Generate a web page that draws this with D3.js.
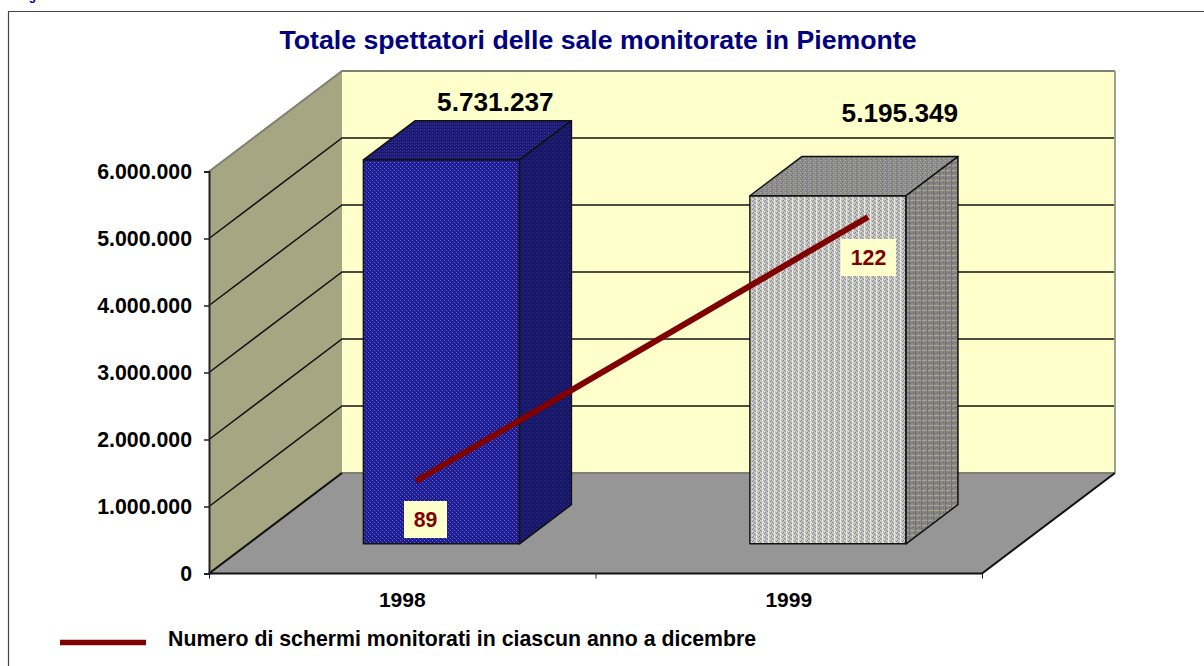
<!DOCTYPE html>
<html>
<head>
<meta charset="utf-8">
<script src="https://cdn.jsdelivr.net/npm/d3@7"></script>
<style>
    html, body { margin: 0; padding: 0; background: #fff; overflow: hidden; }
    svg { display: block; }
    text { font-family: "Liberation Sans", Arial, sans-serif; font-weight: bold; }
</style>
</head>
<body>
<div id="chart"></div>
<script>
const categories = ["1998", "1999"]
const spectators = [5731237, 5195349]
const screens = [89, 122]
const yTicks = [0, 1000000, 2000000, 3000000, 4000000, 5000000, 6000000]
const titleText = "Totale spettatori delle sale monitorate in Piemonte"
const legendText = "Numero di schermi monitorati in ciascun anno a dicembre"
const figureText = "Figura 1.3"

const width = 1204
const height = 666

const svg = d3.select("#chart").append("svg")
    .attr("width", width)
    .attr("height", height)

const it = d3.formatLocale({ decimal: ",", thousands: ".", grouping: [3], currency: ["", "€"] })
const fmt = it.format(",d")

// front plane of the 3d box
const x = d3.scaleBand().domain(categories).range([209, 982]).paddingInner(0.596).paddingOuter(0.298)
const xTick = d3.scaleLinear().domain([0, categories.length]).range([209, 982])
const y = d3.scaleLinear().domain([0, 6000000]).range([573.5, 171.5])

// depth 0 = front, 1 = back wall
const depthX = d3.scaleLinear().domain([0, 1]).range([0, 133])
const depthY = d3.scaleLinear().domain([0, 1]).range([0, -100.5])
const barDepth = [0.295, 0.685]

// the line is drawn over the bars on its own hidden axis
const lineX = d3.scalePoint().domain(categories).range([416, 868])
const lineY = d3.scaleLinear().domain([89, 122]).range([481, 217])

function pt(px, v, d) {
    return [px + depthX(d), y(v) + depthY(d)]
}
function poly(points) {
    return d3.line()(points) + "Z"
}

// dither textures, the bars in the original are pattern filled
const defs = svg.append("defs")
function addPattern(id, w, h, base, cells) {
    let p = defs.append("pattern")
        .attr("id", id)
        .attr("patternUnits", "userSpaceOnUse")
        .attr("width", w)
        .attr("height", h)
    p.append("rect").attr("width", w).attr("height", h).attr("fill", base)
    cells.forEach(function (c) {
        p.append("rect")
            .attr("x", c[0]).attr("y", c[1])
            .attr("width", c[2]).attr("height", c[3])
            .attr("fill", c[4])
    })
}
addPattern("blueFront", 4, 4, "#1c1c90", [
    [0, 0, 1, 1, "#6a6ac8"], [2, 2, 1, 1, "#6a6ac8"], [1, 1, 1, 1, "#2a2aa8"], [3, 3, 1, 1, "#2a2aa8"]
])
addPattern("blueTop", 4, 3, "#1c1c78", [
    [0, 0, 1, 1, "#383898"], [2, 1, 1, 1, "#383898"], [1, 2, 1, 1, "#101058"]
])
addPattern("blueSide", 4, 4, "#18186a", [
    [0, 0, 1, 1, "#2c2c88"], [2, 2, 1, 1, "#2c2c88"], [1, 3, 1, 1, "#0e0e48"]
])
addPattern("greyFront", 6, 4, "#c0c0bc", [
    [0, 0, 1, 4, "#ececd0"], [3, 0, 1, 1, "#7c7cac"], [2, 1, 1, 1, "#8c8cb0"], [4, 2, 1, 1, "#7c7cac"],
    [5, 3, 1, 1, "#8c8cb0"], [1, 2, 1, 1, "#dcdcc4"], [4, 0, 1, 1, "#dcdcc4"], [2, 3, 1, 1, "#dcdcc4"]
])
addPattern("greyTop", 5, 4, "#8e8e8c", [
    [0, 0, 1, 1, "#b0b090"], [2, 1, 1, 1, "#6c6c88"], [3, 2, 1, 1, "#a8a890"], [1, 3, 1, 1, "#6c6c84"]
])
addPattern("greySide", 6, 5, "#88887e", [
    [0, 0, 6, 1, "#a8a888"], [1, 2, 1, 1, "#60608c"], [4, 3, 1, 1, "#60608c"], [3, 0, 1, 5, "#707084"]
])

// frame
svg.append("path")
    .attr("d", d3.line()([[width, 11.5], [8.5, 11.5], [8.5, height]]))
    .attr("fill", "none")
    .attr("stroke", "#444")
    .attr("stroke-width", 1.2)

svg.append("text")
    .attr("x", 18)
    .attr("y", 0)
    .attr("font-size", 12)
    .attr("fill", "#0000a0")
    .text(figureText)

svg.append("text")
    .attr("x", 598)
    .attr("y", 49)
    .attr("text-anchor", "middle")
    .attr("font-size", 26.7)
    .attr("fill", "#000080")
    .text(titleText)

// walls and floor
const left = 209, right = 982
const vMax = yTicks[yTicks.length - 1]

svg.append("path")
    .attr("d", poly([pt(left, 0, 1), pt(left, vMax, 1), pt(right, vMax, 1), pt(right, 0, 1)]))
    .attr("fill", "#ffffcc")
svg.append("path")
    .attr("d", poly([pt(left, 0, 0), pt(left, vMax, 0), pt(left, vMax, 1), pt(left, 0, 1)]))
    .attr("fill", "#a6a682")
svg.append("path")
    .attr("d", poly([pt(left, 0, 0), pt(left, 0, 1), pt(right, 0, 1), pt(right, 0, 0)]))
    .attr("fill", "#969696")

// gridlines run along the side wall then the back wall
svg.append("g").selectAll("path")
    .data(yTicks)
    .enter()
    .append("path")
    .attr("d", function (d) {
        return d3.line()([pt(left, d, 0), pt(left, d, 1), pt(right, d, 1)])
    })
    .attr("fill", "none")
    .attr("stroke", function (d) { return d == 0 || d == vMax ? "#808070" : "#111" })
    .attr("stroke-width", function (d) { return d == 0 || d == vMax ? 2 : 1.5 })

// right edge of the back wall
svg.append("path")
    .attr("d", d3.line()([pt(right, 0, 1), pt(right, vMax, 1)]))
    .attr("stroke", "#a0a090")
    .attr("stroke-width", 2)
    .attr("fill", "none")

// floor edges
svg.append("path")
    .attr("d", d3.line()([pt(left, 0, 1), pt(left, 0, 0), pt(right, 0, 0), pt(right, 0, 1)]))
    .attr("fill", "none")
    .attr("stroke", "#111")
    .attr("stroke-width", 2)

// axes
const yAxis = d3.axisLeft(y).tickValues(yTicks).tickFormat(fmt).tickSize(5).tickPadding(12)
const yG = svg.append("g").attr("transform", "translate(" + left + ",0)").call(yAxis)
yG.selectAll("text").attr("font-size", 21.3).attr("fill", "#000").attr("font-family", null)
yG.selectAll(".tick line").attr("stroke", "#222").attr("stroke-width", 1.5)
yG.select(".domain").attr("stroke", "#222").attr("stroke-width", 2)

const xAxis = d3.axisBottom(xTick).ticks(categories.length).tickFormat("").tickSize(5).tickSizeOuter(0)
const xG = svg.append("g").attr("transform", "translate(0," + y(0) + ")").call(xAxis)
xG.select(".domain").remove()
xG.selectAll(".tick line").attr("stroke", "#222")

svg.append("g").selectAll("text")
    .data(categories)
    .enter()
    .append("text")
    .attr("x", function (d) { return x(d) + x.bandwidth() / 2 })
    .attr("y", 607)
    .attr("text-anchor", "middle")
    .attr("font-size", 21)
    .attr("fill", "#000")
    .text(function (d) { return d })

// 3d bars
const barFills = [
    ["url(#blueFront)", "url(#blueTop)", "url(#blueSide)"],
    ["url(#greyFront)", "url(#greyTop)", "url(#greySide)"]
]
const bars = svg.append("g").selectAll("g")
    .data(categories)
    .enter()
    .append("g")

bars.each(function (c, i) {
    let g = d3.select(this)
    let x0 = x(c), x1 = x(c) + x.bandwidth()
    let v = spectators[i]
    let d0 = barDepth[0], d1 = barDepth[1]
    let faces = [
        [[pt(x0, 0, d0), pt(x0, v, d0), pt(x1, v, d0), pt(x1, 0, d0)], barFills[i][0]],
        [[pt(x0, v, d0), pt(x0, v, d1), pt(x1, v, d1), pt(x1, v, d0)], barFills[i][1]],
        [[pt(x1, 0, d0), pt(x1, v, d0), pt(x1, v, d1), pt(x1, 0, d1)], barFills[i][2]]
    ]
    g.selectAll("path")
        .data(faces)
        .enter()
        .append("path")
        .attr("d", function (f) { return poly(f[0]) })
        .attr("fill", function (f) { return f[1] })
        .attr("stroke", "#111")
        .attr("stroke-width", 1.5)
        .attr("stroke-linejoin", "round")
})

// value labels were moved by hand in the original
const valueLabelShift = [[2, -10], [20, -35]]
svg.append("g").selectAll("text")
    .data(categories)
    .enter()
    .append("text")
    .attr("x", function (d, i) { return pt(x(d) + x.bandwidth() / 2, spectators[i], barDepth[1])[0] + valueLabelShift[i][0] })
    .attr("y", function (d, i) { return pt(x(d), spectators[i], barDepth[1])[1] + valueLabelShift[i][1] })
    .attr("text-anchor", "middle")
    .attr("font-size", 26.2)
    .attr("fill", "#000")
    .text(function (d, i) { return fmt(spectators[i]) })

// line over the bars
svg.append("path")
    .datum(categories)
    .attr("d", d3.line()
        .x(function (d) { return lineX(d) })
        .y(function (d, i) { return lineY(screens[i]) }))
    .attr("fill", "none")
    .attr("stroke", "#800000")
    .attr("stroke-width", 6)

// boxes for the line labels
const boxShift = [[-12, 20, 43, 37], [-27, 22, 55, 37]]
const labels = svg.append("g").selectAll("g")
    .data(categories)
    .enter()
    .append("g")
labels.append("rect")
    .attr("x", function (d, i) { return lineX(d) + boxShift[i][0] })
    .attr("y", function (d, i) { return lineY(screens[i]) + boxShift[i][1] })
    .attr("width", function (d, i) { return boxShift[i][2] })
    .attr("height", function (d, i) { return boxShift[i][3] })
    .attr("fill", "#ffffcc")
labels.append("text")
    .attr("x", function (d, i) { return lineX(d) + boxShift[i][0] + boxShift[i][2] / 2 })
    .attr("y", function (d, i) { return lineY(screens[i]) + boxShift[i][1] + 26 })
    .attr("text-anchor", "middle")
    .attr("font-size", 21.3)
    .attr("fill", "#800000")
    .text(function (d, i) { return screens[i] })

// legend
svg.append("line")
    .attr("x1", 60).attr("x2", 146)
    .attr("y1", 642.5).attr("y2", 642.5)
    .attr("stroke", "#800000")
    .attr("stroke-width", 5.5)
svg.append("text")
    .attr("x", 168)
    .attr("y", 646)
    .attr("font-size", 21.3)
    .attr("fill", "#000")
    .text(legendText)
</script>
</body>
</html>
